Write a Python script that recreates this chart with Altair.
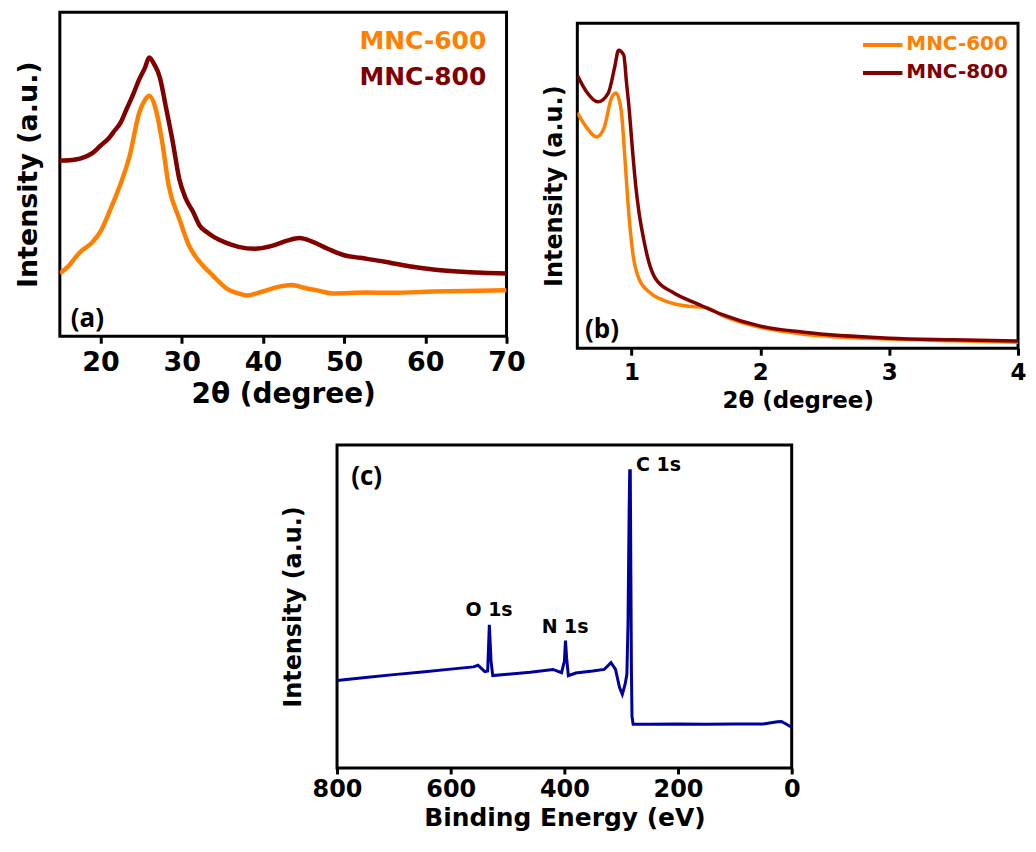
import altair as alt
import pandas as pd

FONT = "DejaVu Sans"
LFONT = "Open Sans"
ORANGE = "#FF8000"
DARKRED = "#800000"
BLUE = "#00009C"

# ---------------- panel (a): wide-angle XRD ----------------
a800_x = [15, 16.5, 17.5, 19, 20, 21, 21.6, 22.5, 23.2, 24, 24.8, 25.5, 26, 26.6, 27.3,
          28.1, 28.9, 29.7, 30.5, 31.4, 32.2, 33, 34, 35.5, 37, 39, 41, 43, 44.5, 46,
          48, 50, 52, 55, 58, 61, 64, 67, 70]
a800_y = [54.2, 54.4, 54.8, 56.5, 58.8, 61, 63, 66, 70, 74.5, 79.4, 83, 86, 84, 80,
          70.2, 60, 48.6, 42.5, 38.4, 34.2, 32.3, 30.6, 28.8, 27.6, 27, 27.8, 29.5, 30.3, 29.3,
          27, 25, 24.2, 23, 21.6, 20.6, 20, 19.6, 19.4]
a600_x = [15, 16, 17.5, 19, 20, 21.1, 22.4, 23.6, 24.8, 25.5, 26, 26.8, 27.6, 28.4, 29.7,
          30.9, 32.2, 33.8, 35.5, 37, 38, 40, 42, 43.5, 45.3, 47, 48.6, 52.7, 56, 60.9, 65, 70]
a600_y = [19.4, 21.5, 26, 29, 32.3, 38.4, 46.5, 55.7, 69.2, 73, 74.2, 70.2, 60, 46.5, 36.3,
          28, 23, 18.8, 14.8, 13.2, 12.6, 13.8, 15.3, 15.8, 14.8, 14, 13.2, 13.5, 13.4, 13.8, 14, 14.2]
a_ticks = [20, 30, 40, 50, 60, 70]

# ---------------- panel (b): small-angle XRD ----------------
b800_x = [0.58, 0.65, 0.74, 0.82, 0.87, 0.90, 0.94, 0.962, 0.983, 1.008, 1.034, 1.059, 1.085,
          1.136, 1.19, 1.32, 1.52, 1.70, 2.0, 2.34, 3.0, 3.5, 4.0]
b800_y = [84, 79, 75.8, 78.5, 86.5, 91.7, 90.2, 81.6, 73.3, 61, 49.7, 41.7, 35.6,
          26.4, 21.2, 17.2, 13.5, 10.4, 6.8, 4.9, 3.1, 2.6, 2.2]
b600_x = [0.58, 0.65, 0.73, 0.79, 0.84, 0.88, 0.92, 0.95, 0.975, 1.01, 1.06, 1.14, 1.27,
          1.44, 1.57, 1.72, 2.0, 2.34, 3.0, 3.5, 4.0]
b600_y = [72.4, 68, 65, 68, 76.4, 78.5, 73.3, 58, 43.6, 29.4, 21.2, 17.2, 14.4,
          12.9, 12.6, 9.8, 6.4, 4.3, 2.8, 2.3, 1.8]
b_ticks = [1, 2, 3, 4]

# ---------------- panel (c): XPS survey ----------------
c_x = [800, 750, 700, 650, 600, 560, 552, 540, 535, 532, 529, 526, 500, 460, 420, 405, 400,
       398, 396, 393, 380, 350, 330, 318, 310, 303, 298, 293, 290, 288, 286, 285, 284, 283,
       282, 281, 279, 250, 200, 150, 100, 50, 25, 18, 10, 0]
c_y = [27.1, 28, 28.9, 29.7, 30.6, 31.3, 31.8, 29.8, 30, 44.3, 33, 28.6, 29, 29.6, 30.5, 29.5, 33,
       39.4, 34, 28.6, 29.4, 30, 30.5, 32.6, 30.5, 25, 22.8, 26, 29, 45, 80, 92, 92, 60,
       30, 16, 13.5, 13.5, 13.6, 13.5, 13.6, 13.6, 14.3, 14.4, 13.6, 12.6]
c_ticks = [0, 200, 400, 600, 800]
c_peaks = ["O 1s", "N 1s", "C 1s"]
c_peak_x = [574, 440, 274]
c_peak_y = [48.9, 43.7, 93.8]

series = ["MNC-600", "MNC-800"]
series_colors = [ORANGE, DARKRED]


def frame():
    return alt.ViewBackground(stroke="black", strokeWidth=3)


def x_axis(values, title, lsize, tsize, lpad, tpad, tsz=7):
    return alt.Axis(values=values, title=title, grid=False, domain=False, ticks=True,
                    tickSize=tsz, tickWidth=3, tickColor="black", labelFont=FONT,
                    labelFontWeight="bold", labelFontSize=lsize, labelColor="black",
                    labelPadding=lpad, labelFlush=False, labelOverlap=False, format="d",
                    titleFont=FONT, titleFontWeight="bold", titleFontSize=tsize,
                    titleColor="black", titlePadding=tpad)


def y_axis(tsize, tpad):
    return alt.Axis(title="Intensity (a.u.)", labels=False, ticks=False, domain=False,
                    grid=False, titleFont=FONT, titleFontWeight="bold", titleFontSize=tsize,
                    titleColor="black", titlePadding=tpad)


def line_layer(xs, ys, color, X, Y, width, interp):
    df = pd.DataFrame({"x": xs, "y": ys})
    return alt.Chart(df).mark_line(color=color, strokeWidth=width, interpolate=interp,
                                   clip=True).encode(x=X, y=Y)


# ---- panel a ----
Xa = alt.X("x:Q", scale=alt.Scale(domain=[15, 70], nice=False, zero=False),
           axis=x_axis(a_ticks, "2θ (degree)", 27, 28, 6, 5))
Ya = alt.Y("y:Q", scale=alt.Scale(domain=[0, 100], nice=False), axis=y_axis(27, 17))
leg_a = pd.DataFrame({"x": [67.5, 67.5], "y": [91, 80], "t": series, "c": series_colors})
lab_a = pd.DataFrame({"x": [16.35], "y": [5.4], "t": ["(a)"]})
panel_a = alt.layer(
    line_layer(a600_x, a600_y, ORANGE, Xa, Ya, 4.5, "monotone"),
    line_layer(a800_x, a800_y, DARKRED, Xa, Ya, 4.5, "monotone"),
    alt.Chart(leg_a).mark_text(font=FONT, fontWeight="bold", fontSize=25, align="right",
                               baseline="middle").encode(
        x=Xa, y=Ya, text="t:N", color=alt.Color("c:N", scale=None)),
    alt.Chart(lab_a).mark_text(font=LFONT, fontWeight="bold", fontSize=26, align="left",
                               baseline="middle", color="black").encode(x=Xa, y=Ya, text="t:N"),
).properties(width=448, height=325, view=frame())

# ---- panel b ----
Xb = alt.X("x:Q", scale=alt.Scale(domain=[0.58, 4], nice=False, zero=False),
           axis=x_axis(b_ticks, "2θ (degree)", 23, 23, 6, 5))
Yb = alt.Y("y:Q", scale=alt.Scale(domain=[0, 100], nice=False), axis=y_axis(24, 11))
leg_b_lines = pd.DataFrame({"x": [2.797, 2.797], "x2": [3.103, 3.103], "y": [93.3, 84.7],
                            "c": series_colors})
leg_b_text = pd.DataFrame({"x": [3.133, 3.133], "y": [93.6, 85], "t": series, "c": series_colors})
lab_b = pd.DataFrame({"x": [0.64], "y": [5.5], "t": ["(b)"]})
panel_b = alt.layer(
    line_layer(b600_x, b600_y, ORANGE, Xb, Yb, 3.5, "monotone"),
    line_layer(b800_x, b800_y, DARKRED, Xb, Yb, 3.5, "monotone"),
    alt.Chart(leg_b_lines).mark_rule(strokeWidth=4).encode(
        x=Xb, x2="x2:Q", y=Yb, color=alt.Color("c:N", scale=None)),
    alt.Chart(leg_b_text).mark_text(font=FONT, fontWeight="bold", fontSize=20, align="left",
                                    baseline="middle").encode(
        x=Xb, y=Yb, text="t:N", color=alt.Color("c:N", scale=None)),
    alt.Chart(lab_b).mark_text(font=LFONT, fontWeight="bold", fontSize=26, align="left",
                               baseline="middle", color="black").encode(x=Xb, y=Yb, text="t:N"),
).properties(width=442, height=326, view=frame())

# ---- panel c ----
Xc = alt.X("x:Q", scale=alt.Scale(domain=[0, 800], nice=False, zero=False, reverse=True),
           axis=x_axis(c_ticks, "Binding Energy (eV)", 24, 25, 4, 4, tsz=6))
Yc = alt.Y("y:Q", scale=alt.Scale(domain=[0, 100], nice=False), axis=y_axis(24, 32))
peaks_c = pd.DataFrame({"x": c_peak_x, "y": c_peak_y, "t": c_peaks})
lab_c = pd.DataFrame({"x": [775], "y": [90.2], "t": ["(c)"]})
panel_c = alt.layer(
    line_layer(c_x, c_y, BLUE, Xc, Yc, 3, "linear"),
    alt.Chart(peaks_c).mark_text(font=FONT, fontWeight="bold", fontSize=19, align="left",
                                 baseline="middle", color="black").encode(x=Xc, y=Yc, text="t:N"),
    alt.Chart(lab_c).mark_text(font=LFONT, fontWeight="bold", fontSize=26, align="left",
                               baseline="middle", color="black").encode(x=Xc, y=Yc, text="t:N"),
).properties(width=456, height=324, view=frame())


def spacer(w, h):
    return alt.Chart(pd.DataFrame({"v": [0]})).mark_point(opacity=0, size=1).properties(
        width=w, height=h, view=alt.ViewBackground(strokeOpacity=0))


col_b = alt.vconcat(spacer(1, 1), panel_b, spacing=8)
top = alt.hconcat(panel_a, col_b, spacing=13)
bottom = alt.hconcat(spacer(1, 1), panel_c, spacing=219)
chart = alt.vconcat(top, bottom, spacing=29).properties(
    padding={"left": 5, "top": 1, "right": 0, "bottom": 0}
).configure_view(strokeWidth=0)

chart.save("out.html", embed_options={"renderer": "svg", "actions": False})
